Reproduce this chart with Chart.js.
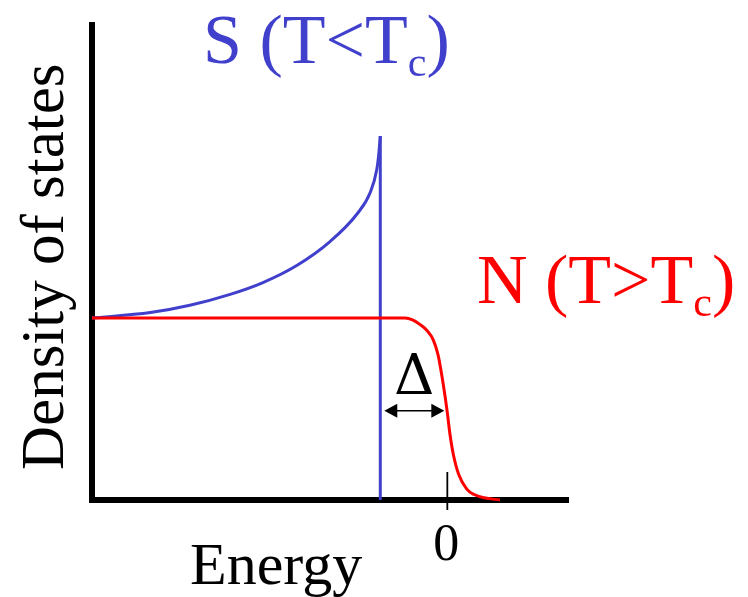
<!DOCTYPE html>
<html>
<head>
<meta charset="utf-8">
<script src="https://cdn.jsdelivr.net/npm/chart.js@4.4.1/dist/chart.umd.min.js"></script>
<style>
  html, body { margin: 0; padding: 0; background: #fff; }
  #wrap { width: 748px; height: 597px; }
</style>
</head>
<body>
<div id="wrap"><canvas id="dosChart" width="748" height="597"></canvas></div>
<script>
// energy in units of the gap (0 = Fermi level), DOS in units of the normal-state value
const gapEdge = -1.0;
const superEnergy = [-5.3, -4.43, -3.84, -3.24, -2.75, -2.24, -1.75, -1.35, -1.15, -1.05, -1.02, -1.0];
const superDos    = [1.0, 1.03, 1.07, 1.13, 1.195, 1.29, 1.42, 1.57, 1.69, 1.82, 1.91, 2.0];
const edgeEnergy  = [gapEdge, gapEdge];
const edgeDos     = [2.0, 0];
const normalEnergy = [-5.3, -0.63, -0.52, -0.41, -0.30, -0.21, -0.14, -0.08, -0.03, 0, 0.04, 0.09, 0.17, 0.29, 0.40, 0.55, 0.785];
const normalDos    = [1.0, 1.0, 0.99, 0.965, 0.93, 0.88, 0.80, 0.68, 0.56, 0.48, 0.36, 0.25, 0.14, 0.06, 0.03, 0.012, 0];
const zeroTick = [0];

const blue = '#4040cc';
const red = '#ff0000';
const serif = '"Liberation Serif", "Times New Roman", serif';

const toPoints = (xs, ys) => xs.map((v, i) => ({x: v, y: ys[i]}));

// text with a lowered subscript piece, e.g. T_c
function drawLabel(ctx, parts, x, y, size, color) {
  ctx.fillStyle = color;
  ctx.textAlign = 'left';
  ctx.textBaseline = 'alphabetic';
  let cx = x;
  parts.forEach(p => {
    const s = p.sub ? size * 0.6 : size;
    ctx.font = s + 'px ' + serif;
    ctx.fillText(p.t, cx, y + (p.sub ? size * 0.18 : 0));
    cx += ctx.measureText(p.t).width;
  });
}

const annotations = {
  id: 'annotations',
  afterDatasetsDraw(chart) {
    const {ctx, scales: {x, y}} = chart;
    ctx.save();

    // tick at E = 0
    zeroTick.forEach(v => {
      const px = x.getPixelForValue(v);
      ctx.strokeStyle = '#000';
      ctx.lineWidth = 1.8;
      ctx.beginPath();
      ctx.moveTo(px, y.bottom - 28);
      ctx.lineTo(px, y.bottom + 10);
      ctx.stroke();
      ctx.fillStyle = '#000';
      ctx.font = '52px ' + serif;
      ctx.textAlign = 'center';
      ctx.textBaseline = 'alphabetic';
      ctx.fillText(String(v), px - 1, 560);
    });

    // gap arrow between the edge and the Fermi level
    const xa = x.getPixelForValue(gapEdge) + 4;
    const xb = x.getPixelForValue(0) - 3;
    const ya = y.getPixelForValue(0.49);
    ctx.strokeStyle = '#000';
    ctx.fillStyle = '#000';
    ctx.lineWidth = 1.5;
    ctx.beginPath();
    ctx.moveTo(xa + 8, ya);
    ctx.lineTo(xb - 8, ya);
    ctx.stroke();
    ctx.beginPath();
    ctx.moveTo(xa, ya); ctx.lineTo(xa + 13, ya - 7); ctx.lineTo(xa + 13, ya + 7); ctx.closePath();
    ctx.moveTo(xb, ya); ctx.lineTo(xb - 13, ya - 7); ctx.lineTo(xb - 13, ya + 7); ctx.closePath();
    ctx.fill();

    ctx.font = '56px "DejaVu Serif", serif';
    ctx.textAlign = 'center';
    ctx.fillText('\u0394', (xa + xb) / 2, y.getPixelForValue(0.58));

    // curve labels
    drawLabel(ctx, [{t: 'S (T<T'}, {t: 'c', sub: true}, {t: ')'}], 203, 63, 70, blue);
    drawLabel(ctx, [{t: 'N (T>T'}, {t: 'c', sub: true}, {t: ')'}], 477, 303, 70, red);

    // axis names
    ctx.fillStyle = '#000';
    ctx.font = '60px ' + serif;
    ctx.textAlign = 'left';
    ctx.fillText('Energy', 190, 584);
    ctx.translate(63, 470);
    ctx.rotate(-Math.PI / 2);
    ctx.font = '61px ' + serif;
    ctx.fillText('Density of states', 0, 0);

    ctx.restore();
  }
};

new Chart(document.getElementById('dosChart'), {
  type: 'scatter',
  data: {
    datasets: [
      {
        label: 'N (T>Tc)',
        data: toPoints(normalEnergy, normalDos),
        borderColor: red,
        borderWidth: 3,
        showLine: true,
        pointRadius: 0,
        cubicInterpolationMode: 'monotone',
        clip: false
      },
      {
        label: 'S (T<Tc)',
        data: toPoints(superEnergy, superDos),
        borderColor: blue,
        borderWidth: 3,
        showLine: true,
        pointRadius: 0,
        cubicInterpolationMode: 'monotone',
        clip: false
      },
      {
        label: 'S gap edge',
        data: toPoints(edgeEnergy, edgeDos),
        borderColor: blue,
        borderWidth: 3,
        showLine: true,
        pointRadius: 0,
        clip: false
      }
    ]
  },
  options: {
    responsive: false,
    animation: false,
    layout: { padding: { top: 25, right: 180, left: 0, bottom: 0 } },
    plugins: {
      legend: { display: false },
      tooltip: { enabled: false }
    },
    scales: {
      x: {
        type: 'linear',
        min: -5.3,
        max: 1.8,
        grid: { display: false },
        ticks: { display: false },
        border: { color: '#000', width: 6 },
        afterFit: (s) => { s.height = 97; }
      },
      y: {
        min: 0,
        max: 2.61,
        grid: { display: false },
        ticks: { display: false },
        border: { color: '#000', width: 6 },
        afterFit: (s) => { s.width = 92; }
      }
    }
  },
  plugins: [annotations]
});
</script>
</body>
</html>
